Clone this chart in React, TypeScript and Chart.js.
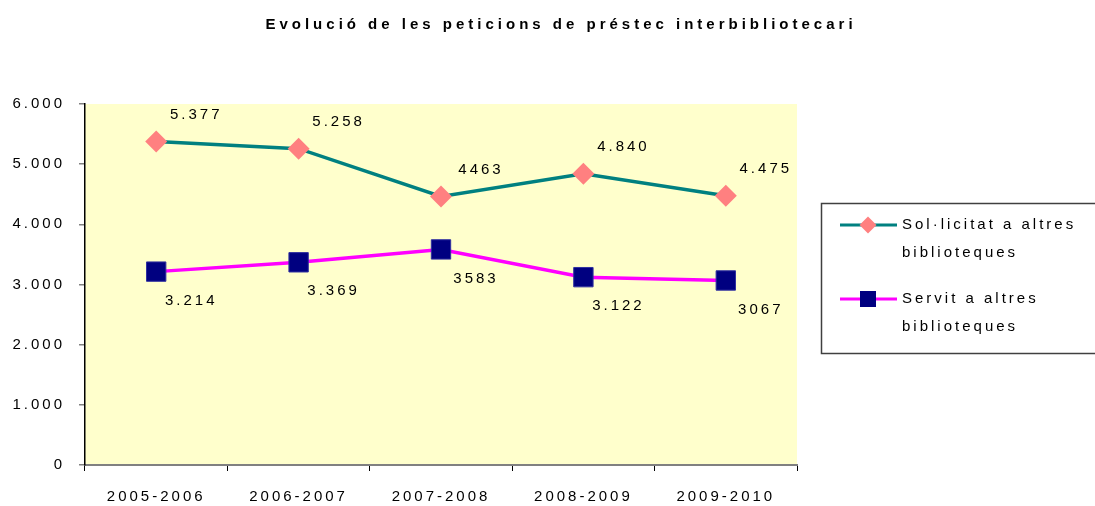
import React, { useEffect, useRef } from 'react';
import { Chart, registerables } from 'chart.js';

Chart.register(...registerables);

const chartTitle = 'Evolució de les peticions de préstec interbibliotecari';
const categories = ['2005-2006', '2006-2007', '2007-2008', '2008-2009', '2009-2010'];
const solLabelLines = ['Sol·licitat a altres', 'biblioteques'];
const servLabelLines = ['Servit a altres', 'biblioteques'];
const solValues = [5377, 5258, 4463, 4840, 4475];
const servValues = [3214, 3369, 3583, 3122, 3067];
const solValueText = ['5.377', '5.258', '4463', '4.840', '4.475'];
const servValueText = ['3.214', '3.369', '3583', '3.122', '3067'];
const yTickValues = [0, 1000, 2000, 3000, 4000, 5000, 6000];
const yTickLabels = ['0', '1.000', '2.000', '3.000', '4.000', '5.000', '6.000'];

const FONT = "'Liberation Sans Narrow', 'Arial Narrow', 'Liberation Sans', Arial, sans-serif";
const SPACING = '3px';

const SOL_LINE = '#008080';
const SOL_MARK = '#FF8080';
const SERV_LINE = '#FF00FF';
const SERV_MARK = '#000080';

const setSpacing = (chart: any, s: string) => {
  try { chart.ctx.letterSpacing = s; } catch (e) { /* ignore */ }
};

const decorPlugin = {
  id: 'decor',
  beforeLayout(chart: any) { setSpacing(chart, SPACING); },
  beforeDraw(chart: any) {
    setSpacing(chart, SPACING);
    const { ctx, chartArea } = chart;
    ctx.save();
    ctx.fillStyle = '#FFFFCC';
    ctx.fillRect(chartArea.left, chartArea.top, chartArea.right - chartArea.left, chartArea.bottom - chartArea.top);
    ctx.restore();
  },
  afterDatasetsDraw(chart: any) {
    const { ctx } = chart;
    const texts = [solValueText, servValueText];
    const offs = [[40, -27], [35, 29]];
    ctx.save();
    ctx.letterSpacing = SPACING;
    ctx.font = `15px ${FONT}`;
    ctx.fillStyle = '#000';
    ctx.textAlign = 'center';
    ctx.textBaseline = 'middle';
    chart.data.datasets.forEach((_: any, di: number) => {
      const meta = chart.getDatasetMeta(di);
      meta.data.forEach((pt: any, i: number) => {
        ctx.fillText(texts[di][i], pt.x + offs[di][0], pt.y + offs[di][1]);
      });
    });
    ctx.restore();
  },
  afterDraw(chart: any) {
    const { ctx } = chart;
    ctx.save();
    // title
    ctx.letterSpacing = '4px';
    ctx.font = `bold 15px ${FONT}`;
    ctx.fillStyle = '#000';
    ctx.textAlign = 'center';
    ctx.textBaseline = 'middle';
    ctx.fillText(chartTitle, 561, 25);

    // legend box
    ctx.letterSpacing = SPACING;
    ctx.strokeStyle = '#404040';
    ctx.lineWidth = 1.5;
    ctx.strokeRect(821.5, 203.5, 300, 150);
    const items = [
      { lines: solLabelLines, y: 225, line: SOL_LINE, mark: SOL_MARK, style: 'rectRot', r: 8.5 },
      { lines: servLabelLines, y: 299, line: SERV_LINE, mark: SERV_MARK, style: 'rect', r: 11.3 },
    ];
    items.forEach((it) => {
      ctx.strokeStyle = it.line;
      ctx.lineWidth = 3;
      ctx.beginPath();
      ctx.moveTo(840, it.y);
      ctx.lineTo(897, it.y);
      ctx.stroke();
      ctx.fillStyle = it.mark;
      ctx.beginPath();
      if (it.style === 'rectRot') {
        ctx.moveTo(868 - it.r, it.y);
        ctx.lineTo(868, it.y - it.r);
        ctx.lineTo(868 + it.r, it.y);
        ctx.lineTo(868, it.y + it.r);
        ctx.closePath();
      } else {
        const h = it.r * Math.SQRT1_2;
        ctx.rect(868 - h, it.y - h, 2 * h, 2 * h);
      }
      ctx.fill();
      ctx.fillStyle = '#000';
      ctx.font = `15px ${FONT}`;
      ctx.textAlign = 'left';
      ctx.textBaseline = 'middle';
      it.lines.forEach((t: string, k: number) => ctx.fillText(t, 902, it.y + k * 28));
    });
    ctx.restore();
  },
};

export default function App() {
  const ref = useRef<HTMLCanvasElement>(null);
  useEffect(() => {
    document.body.style.margin = '0';
    document.body.style.overflow = 'hidden';
    if (!ref.current) return;
    const chart = new Chart(ref.current, {
      type: 'line',
      data: {
        labels: categories,
        datasets: [
          {
            label: solLabelLines.join(' '),
            data: solValues,
            borderColor: SOL_LINE,
            backgroundColor: SOL_MARK,
            borderWidth: 3.5,
            pointStyle: 'rectRot',
            pointRadius: 11,
            pointBackgroundColor: SOL_MARK,
            pointBorderColor: SOL_MARK,
            pointBorderWidth: 0,
            tension: 0,
          },
          {
            label: servLabelLines.join(' '),
            data: servValues,
            borderColor: SERV_LINE,
            backgroundColor: SERV_MARK,
            borderWidth: 3.5,
            pointStyle: 'rect',
            pointRadius: 13.7,
            pointBackgroundColor: SERV_MARK,
            pointBorderColor: '#3030A0',
            pointBorderWidth: 1,
            tension: 0,
          },
        ],
      },
      options: {
        responsive: false,
        animation: false,
        devicePixelRatio: 1,
        layout: { padding: { top: 104, right: 298, left: 0, bottom: 0 } },
        plugins: {
          legend: { display: false },
          title: { display: false },
          tooltip: { enabled: false },
        },
        scales: {
          x: {
            offset: true,
            grid: { offset: true, display: true, drawOnChartArea: false, drawTicks: true, tickLength: 6, color: '#000', lineWidth: 1 },
            border: { display: true, color: '#808080', width: 2 },
            ticks: { color: '#000', font: { family: FONT, size: 15 }, padding: 17, maxRotation: 0 },
            afterFit: (s: any) => { s.height = 41; },
          },
          y: {
            min: 0,
            max: 6000,
            afterBuildTicks: (s: any) => { s.ticks = yTickValues.map((v) => ({ value: v })); },
            grid: { display: true, drawOnChartArea: false, drawTicks: true, tickLength: 6, color: '#808080', lineWidth: 1.5 },
            border: { display: true, color: '#000', width: 1.5 },
            ticks: {
              color: '#000',
              font: { family: FONT, size: 15 },
              padding: 14,
              callback: (v: any) => yTickLabels[yTickValues.indexOf(Number(v))],
            },
            afterFit: (s: any) => { s.width = 85; },
          },
        },
      },
      plugins: [decorPlugin],
    });
    return () => chart.destroy();
  }, []);
  return <canvas ref={ref} width={1095} height={506} style={{ display: 'block' }} />;
}
